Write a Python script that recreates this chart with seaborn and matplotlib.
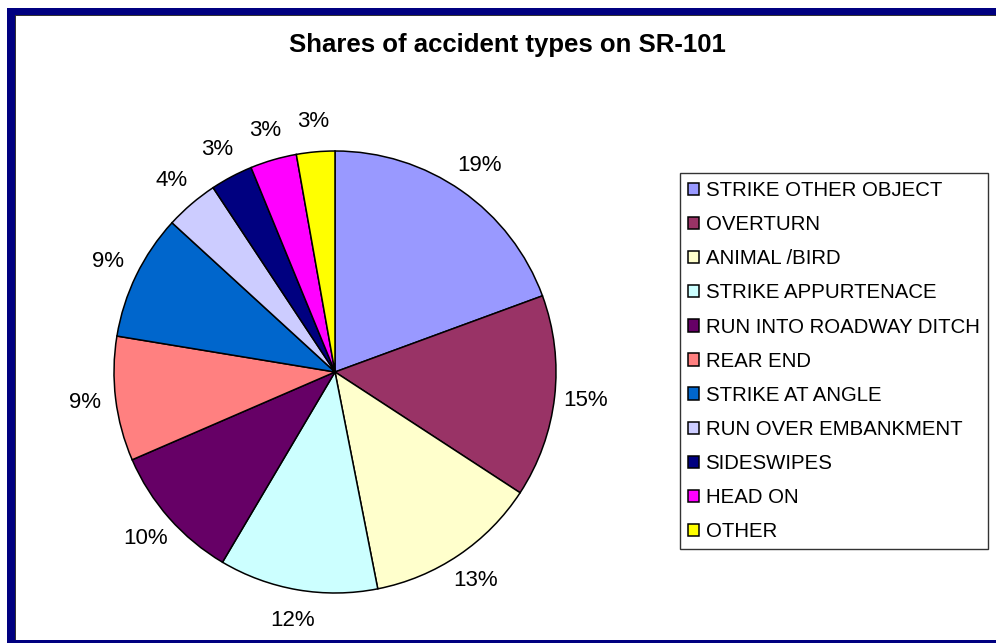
import matplotlib
matplotlib.use("Agg")
import matplotlib.pyplot as plt
from matplotlib.patches import Rectangle
import seaborn as sns

categories = ["STRIKE OTHER OBJECT", "OVERTURN", "ANIMAL /BIRD", "STRIKE APPURTENACE",
              "RUN INTO ROADWAY DITCH", "REAR END", "STRIKE AT ANGLE",
              "RUN OVER EMBANKMENT", "SIDESWIPES", "HEAD ON", "OTHER"]
shares = [19.4, 14.8, 12.7, 11.6, 10.0, 9.1, 9.2, 3.9, 3.1, 3.4, 2.8]
colors = ["#9999FF", "#993366", "#FFFFCC", "#CCFFFF", "#660066", "#FF8080",
          "#0066CC", "#CCCCFF", "#000080", "#FF00FF", "#FFFF00"]
title = "Shares of accident types on SR-101"

sns.set_theme(style="white")
plt.rcParams["font.family"] = ["Liberation Sans", "DejaVu Sans"]
plt.rcParams["text.color"] = "black"

W, H = 996, 643
fig = plt.figure(figsize=(W / 100, H / 100), dpi=100)
fig.patch.set_facecolor("white")

cx, cy, r = 335, 372, 221
ax = fig.add_axes([(cx - r) / W, (H - cy - r) / H, 2 * r / W, 2 * r / H])
palette = sns.color_palette(colors)
wedges, texts, autotexts = ax.pie(
    shares, colors=palette, startangle=90, counterclock=False,
    autopct="%.0f%%", pctdistance=1.14,
    wedgeprops=dict(edgecolor="black", linewidth=1.1),
    textprops=dict(fontsize=16, color="black"))
ax.set_xlim(-1, 1)
ax.set_ylim(-1, 1)
ax.set_aspect("equal")
ax.axis("off")

leg = fig.legend(wedges, categories, loc="upper left",
                 bbox_to_anchor=(680 / W, 1 - 173 / H),
                 fontsize=14.7, frameon=True, fancybox=False, shadow=False,
                 handlelength=0.55, handleheight=0.55, handletextpad=0.3,
                 labelspacing=0.74, borderpad=0.4, borderaxespad=0)
leg.get_frame().set_edgecolor("black")
leg.get_frame().set_linewidth(1.0)
for t in leg.get_texts():
    t.set_color("black")

fig.text(507 / W, 1 - 45 / H, title, ha="center", va="center",
         fontsize=18.5, fontweight="bold", color="black")

navy = "#000080"
def strip(x0, y0, x1, y1, c=navy):
    fig.add_artist(Rectangle((x0 / W, 1 - y1 / H), (x1 - x0) / W, (y1 - y0) / H,
                             transform=fig.transFigure, facecolor=c,
                             edgecolor="none", zorder=10))
strip(7, 8, W + 5, 15)      # top
strip(7, 8, 15, H + 5)      # left
strip(7, 640, W + 5, H + 5) # bottom
strip(15, 15, W + 5, 16, "#333333")
strip(15, 15, 16, 640, "#333333")

fig.savefig("out.png", dpi=100)
